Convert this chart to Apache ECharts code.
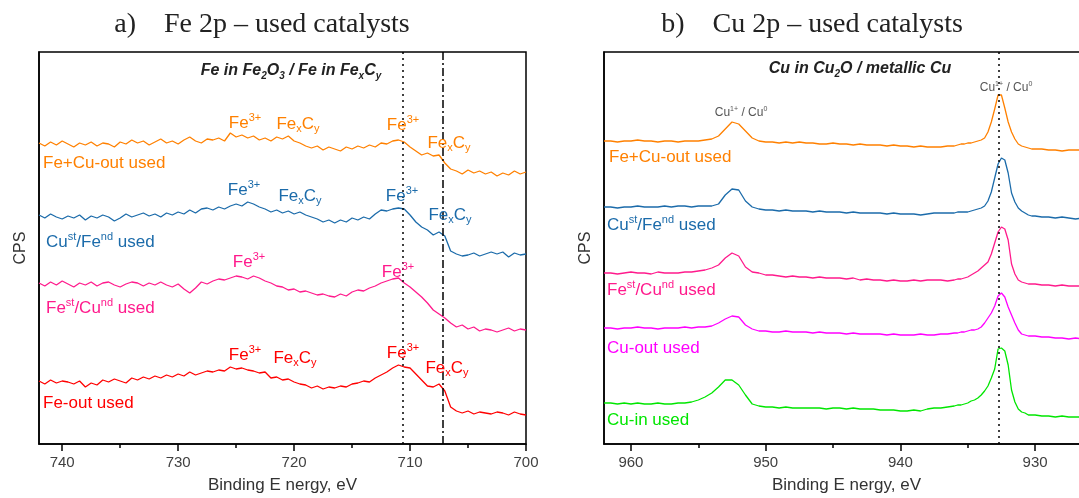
<!DOCTYPE html>
<html><head><meta charset="utf-8">
<script src="https://cdn.jsdelivr.net/npm/echarts@6/dist/echarts.min.js"></script>
<style>html,body{margin:0;padding:0;background:#fff}#c{width:1079px;height:498px}</style>
</head><body><div id="c"></div>
<script>
// ---------- DATA ----------
const leftEnergy = [
742,741.5,741,740.5,740,739.5,739,738.5,738,737.5,
737,736.5,736,735.5,735,734.5,734,733.5,733,732.5,
732,731.5,731,730.5,730,729.5,729,728.5,728,727.5,
727,726.5,726,725.5,725,724.5,724,723.5,723,722.5,
722,721.5,721,720.5,720,719.5,719,718.5,718,717.5,
717,716.5,716,715.5,715,714.5,714,713.5,713,712.5,
712,711.5,711,710.5,710,709.5,709,708.5,708,707.5,
707,706.5,706,705.5,705,704.5,704,703.5,703,702.5,
702,701.5,701,700.5,700];
const fe_FeCuOut = [
301,298,302,299,303,300,297,301,299,302,
298,301,300,297,302,300,304,301,303,299,
302,305,301,303,300,304,307,303,301,305,
304,306,303,311,307,309,306,308,304,306,
303,307,305,308,303,301,298,296,298,294,
297,295,293,297,295,298,296,299,297,301,
300,303,304,302,297,293,289,291,288,289,
281,275,273,270,274,271,273,270,272,268,
271,269,273,270,272];
const fe_CuFe = [
229,226,230,227,225,228,226,229,224,228,
226,229,227,223,226,230,227,229,231,228,
230,227,231,229,232,230,234,231,235,236,
234,237,235,238,240,238,242,240,237,235,
232,234,231,233,230,232,229,227,225,222,
224,221,224,222,226,224,227,225,230,234,
233,235,236,235,229,222,217,214,209,212,
208,193,190,188,189,191,188,190,192,190,
192,187,191,189,190];
const fe_FeCu = [
161,158,162,159,163,160,157,161,159,162,
158,161,162,159,157,160,162,161,158,161,
159,162,159,157,160,155,151,156,162,160,
163,165,164,166,168,167,165,168,166,163,
161,158,157,154,155,152,153,151,149,150,
148,147,150,148,152,154,153,156,158,161,
163,165,166,161,157,152,147,141,134,130,
126,121,117,119,115,117,113,115,114,112,
114,116,113,115,114];
const fe_FeOut = [
63,60,64,61,63,62,60,63,57,61,
59,64,62,65,63,61,66,64,67,65,
68,66,69,67,70,68,72,69,71,73,
72,74,73,77,75,76,74,73,71,72,
66,67,64,65,62,60,59,56,58,55,
57,56,58,57,60,61,63,62,66,69,
72,76,79,77,76,70,64,58,57,60,
53,37,33,31,33,30,32,31,30,32,
31,29,32,30,29];

const rightEnergy = [
962,961.5,961,960.5,960,959.5,959,958.5,958,957.5,
957,956.5,956,955.5,955,954.5,954,953.5,953,952.5,
952,951.5,951,950.5,950,949.5,949,948.5,948,947.5,
947,946.5,946,945.5,945,944.5,944,943.5,943,942.5,
942,941.5,941,940.5,940,939.5,939,938.5,938,937.5,
937,936.5,936,
935.75,935.5,935.25,935,934.75,934.5,934.25,934,933.75,933.5,
933.25,933,932.75,932.5,932.25,932,931.75,931.5,931.25,931,
930.75,930.5,930.25,
930,929.5,929,928.5,928,927.5,927,926.5,926];
const cu_FeCuOut = [
303,303,302,303,303,304,303,303,302,303,
303,302,303,303,303,304,305,308,315,322,
320,313,306,303,302,302,301,302,301,302,
301,301,300,300,301,300,300,299,300,299,
299,299,298,299,298,298,297,298,297,297,
297,298,298,
299,300,300,301,301,302,303,304,306,312,
322,335,349,349,336,322,312,305,300,298,
297,296,295,
295,295,294,294,293,294,294,294,294];
const cu_CuFe = [
237,237,236,237,237,238,237,237,237,238,
237,238,238,237,238,238,238,240,249,255,
254,243,237,235,234,234,233,234,233,233,
233,232,233,232,232,232,231,232,231,231,
231,231,230,231,230,230,230,229,230,231,
231,231,231,
232,232,232,232,233,234,235,236,238,243,
252,266,280,286,284,271,251,242,236,233,
231,229,228,
228,227,227,226,227,226,225,226,225];
const cu_FeCu = [
171,171,170,171,172,171,171,170,172,171,
171,171,172,172,173,174,176,179,186,191,
188,177,172,171,169,169,168,167,168,167,
167,166,167,166,166,166,165,166,164,165,
164,164,163,164,163,163,164,163,164,164,
164,163,164,
165,165,166,167,169,171,173,176,179,182,
190,201,212,217,215,204,180,170,164,162,
161,160,160,
160,159,159,158,159,158,158,158,158];
const cu_CuOut = [
116,116,115,116,116,117,116,116,115,116,
116,116,117,116,117,117,118,121,125,128,
127,119,115,113,113,112,112,113,112,112,
112,111,112,111,111,111,110,111,110,110,
110,110,109,110,109,109,109,110,109,109,
110,110,111,
111,112,112,113,114,114,115,117,121,126,
131,138,148,151,147,137,129,121,114,110,
109,108,108,
108,107,107,106,106,105,106,105,105];
const cu_CuIn = [
41,41,40,41,40,41,40,40,41,40,
40,41,41,42,44,47,51,57,64,64,
59,49,40,38,37,37,36,37,36,36,
36,36,36,35,36,36,35,36,35,35,
35,34,34,34,33,33,34,33,35,36,
36,37,38,
39,39,40,41,43,44,46,49,53,58,
66,75,95,96,93,79,54,42,35,32,
31,29,29,
29,28,28,27,28,27,27,27,27];

const leftTicks = [740,730,720,710,700];
const leftMinor = [735,725,715,705];
const rightTicks = [960,950,940,930];
const rightMinor = [955,945,935];
const feRefLines = [710.65, 707.2];
const cuRefLine = [932.72];

// ---------- CHART ----------
const SANS = '"Liberation Sans", Arial, sans-serif';
const SERIF = '"Liberation Serif", "Times New Roman", serif';
const C = {orange:'#FF8000', blue:'#1B6BAA', pink:'#FF1A8C', red:'#FF0000', magenta:'#FF00FF', green:'#00E600', gray:'#555555'};

function pairs(E, V){ return E.map((e,i)=>[e, V[i]]); }

function richFor(color, size, weight, style){
  const s = Math.round(size*0.62);
  return {
    sup:{fill:color, fontSize:s, fontFamily:SANS, fontWeight:weight||'normal', fontStyle:style||'normal', verticalAlign:'top', lineHeight:s+2},
    sub:{fill:color, fontSize:s, fontFamily:SANS, fontWeight:weight||'normal', fontStyle:style||'normal', verticalAlign:'bottom', lineHeight:s+2}
  };
}
function txt(x, y, text, color, size, align, weight, fstyle, family){
  return {type:'text', x:x, y:y, z:100, silent:true,
    style:{text:text, fill:color, fontSize:size, fontFamily:family||SANS,
      fontWeight:weight||'normal', fontStyle:fstyle||'normal',
      lineHeight:Math.round(size*1.25), align:align||'center', verticalAlign:'middle',
      rich:richFor(color,size,weight,fstyle)}};
}

const axisCommon = (min,max,ticks,name)=>({
  type:'value', min:min, max:max, inverse:true, position:'bottom',
  axisLine:{show:true, lineStyle:{color:'#000', width:1.5}},
  axisTick:{show:true, inside:false, length:7, customValues:ticks, lineStyle:{color:'#000', width:1.5}},
  axisLabel:{customValues:ticks, fontSize:15, color:'#404040', fontFamily:SANS, margin:11},
  splitLine:{show:false},
  name:name, nameLocation:'middle', nameGap:33,
  nameTextStyle:{fontSize:17, color:'#333', fontFamily:SANS}
});
const minorAxis = (min,max,ticks,gi)=>({
  gridIndex:gi, type:'value', min:min, max:max, inverse:true, position:'bottom',
  axisLine:{show:false}, axisLabel:{show:false}, splitLine:{show:false},
  axisTick:{show:true, inside:false, length:4, customValues:ticks, lineStyle:{color:'#000', width:1.5}}
});
const yAxisCommon = (gi)=>({
  gridIndex:gi, type:'value', min:0, max:392,
  axisLine:{show:true, lineStyle:{color:'#000', width:1.5}},
  axisTick:{show:false}, axisLabel:{show:false}, splitLine:{show:false},
  name:'CPS', nameLocation:'middle', nameGap:10, nameRotate:90,
  nameTextStyle:{fontSize:16, color:'#333', fontFamily:SANS}
});

function line(xi, E, V, color, extra){
  return Object.assign({type:'line', xAxisIndex:xi, yAxisIndex:xi<2?0:1, data:pairs(E,V),
    showSymbol:false, symbol:'none', silent:true, lineStyle:{color:color, width:1.3}, z:3}, extra||{});
}

const option = {
  animation:false,
  backgroundColor:'#fff',
  grid:[
    {left:39, top:52, width:487, height:392, show:true, borderColor:'#000', borderWidth:1.5, backgroundColor:'transparent', outerBoundsMode:'none', containLabel:false},
    {left:604, top:52, width:485, height:392, show:true, borderColor:'#000', borderWidth:1.5, backgroundColor:'transparent', outerBoundsMode:'none', containLabel:false}
  ],
  xAxis:[
    Object.assign({gridIndex:0}, axisCommon(700,742,leftTicks,'Binding E nergy, eV')),
    minorAxis(700,742,leftMinor,0),
    Object.assign({gridIndex:1}, axisCommon(926,962,rightTicks,'Binding E nergy, eV')),
    minorAxis(926,962,rightMinor,1)
  ],
  yAxis:[yAxisCommon(0), yAxisCommon(1)],
  series:[
    line(0, leftEnergy, fe_FeCuOut, C.orange, {markLine:{silent:true, symbol:['none','none'], label:{show:false},
      data:[{xAxis:feRefLines[0], lineStyle:{color:'#000', type:[2,4], width:1.5}},
            {xAxis:feRefLines[1], lineStyle:{color:'#000', type:[8,3,2,3], width:1.5}}]}}),
    line(0, leftEnergy, fe_CuFe, C.blue),
    line(0, leftEnergy, fe_FeCu, C.pink),
    line(0, leftEnergy, fe_FeOut, C.red),
    line(2, rightEnergy, cu_FeCuOut, C.orange, {markLine:{silent:true, symbol:['none','none'], label:{show:false},
      data:[{xAxis:cuRefLine[0], lineStyle:{color:'#000', type:[2,4], width:1.5}}]}}),
    line(2, rightEnergy, cu_CuFe, C.blue),
    line(2, rightEnergy, cu_FeCu, C.pink),
    line(2, rightEnergy, cu_CuOut, C.magenta),
    line(2, rightEnergy, cu_CuIn, C.green)
  ],
  graphic:[
    txt(262, 25, 'a)    Fe 2p – used catalysts', '#222', 28, 'center', 'normal', 'normal', SERIF),
    txt(812, 25, 'b)    Cu 2p – used catalysts', '#222', 28, 'center', 'normal', 'normal', SERIF),
    txt(291, 71, 'Fe in Fe{sub|2}O{sub|3} / Fe in Fe{sub|x}C{sub|y}', '#222', 16, 'center', 'bold', 'italic'),
    txt(860, 69, 'Cu in Cu{sub|2}O / metallic Cu', '#222', 16, 'center', 'bold', 'italic'),
    // left: orange
    txt(245, 123, 'Fe{sup|3+}', C.orange, 17),
    txt(298, 124, 'Fe{sub|x}C{sub|y}', C.orange, 17),
    txt(403, 125, 'Fe{sup|3+}', C.orange, 17),
    txt(449, 143, 'Fe{sub|x}C{sub|y}', C.orange, 17),
    txt(43, 163, 'Fe+Cu-out used', C.orange, 17, 'left'),
    // blue
    txt(244, 190, 'Fe{sup|3+}', C.blue, 17),
    txt(300, 196, 'Fe{sub|x}C{sub|y}', C.blue, 17),
    txt(402, 196, 'Fe{sup|3+}', C.blue, 17),
    txt(450, 215, 'Fe{sub|x}C{sub|y}', C.blue, 17),
    txt(46, 242, 'Cu{sup|st}/Fe{sup|nd} used', C.blue, 17, 'left'),
    // pink
    txt(249, 262, 'Fe{sup|3+}', C.pink, 17),
    txt(398, 272, 'Fe{sup|3+}', C.pink, 17),
    txt(46, 308, 'Fe{sup|st}/Cu{sup|nd} used', C.pink, 17, 'left'),
    // red
    txt(245, 355, 'Fe{sup|3+}', C.red, 17),
    txt(295, 358, 'Fe{sub|x}C{sub|y}', C.red, 17),
    txt(403, 353, 'Fe{sup|3+}', C.red, 17),
    txt(447, 368, 'Fe{sub|x}C{sub|y}', C.red, 17),
    txt(43, 403, 'Fe-out used', C.red, 17, 'left'),
    // right panel
    txt(741, 113, 'Cu{sup|1+} / Cu{sup|0}', C.gray, 12),
    txt(1006, 88, 'Cu{sup|1+} / Cu{sup|0}', C.gray, 12),
    txt(609, 157, 'Fe+Cu-out used', C.orange, 17, 'left'),
    txt(607, 225, 'Cu{sup|st}/Fe{sup|nd} used', C.blue, 17, 'left'),
    txt(607, 290, 'Fe{sup|st}/Cu{sup|nd} used', C.pink, 17, 'left'),
    txt(607, 348, 'Cu-out used', C.magenta, 17, 'left'),
    txt(607, 420, 'Cu-in used', C.green, 17, 'left')
  ]
};
[fe_FeCuOut,fe_CuFe,fe_FeCu,fe_FeOut].forEach((a,i)=>{ if(a.length!==leftEnergy.length) console.error('left len',i,a.length); });
[cu_FeCuOut,cu_CuFe,cu_FeCu,cu_CuOut,cu_CuIn].forEach((a,i)=>{ if(a.length!==rightEnergy.length) console.error('right len',i,a.length,rightEnergy.length); });
const chart = echarts.init(document.getElementById('c'), null, {renderer:'canvas'});
chart.setOption(option);
</script>
</body></html>
